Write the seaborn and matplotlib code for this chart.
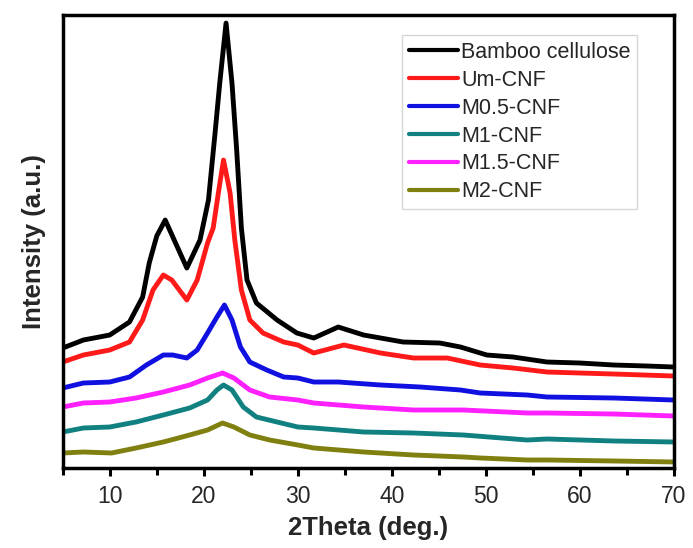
import matplotlib
matplotlib.use("Agg")
import matplotlib.pyplot as plt
import seaborn as sns
import pandas as pd
from matplotlib.ticker import MultipleLocator

# ---- data (intensity in arbitrary units) ----
bamboo_x = [5, 7.2, 10, 12.1, 13.5, 14.2, 15.0, 15.9, 17.0, 18.2, 19.6, 20.5, 21.2, 21.7, 22.37,
            23.0, 23.5, 24.0, 24.6, 25.6, 27.8, 29.9, 31.7, 34.3, 37.0, 41.2, 45.1, 47.3, 50.1,
            52.9, 56.5, 60.0, 63.6, 67.1, 70]
bamboo_y = [120, 128, 133, 146, 171, 205, 232, 248, 225, 200, 228, 268, 335, 385, 445,
            385, 318, 240, 188, 165, 148, 135, 130, 141, 133, 126, 125, 121, 113,
            111, 106, 105, 103, 102, 101]

um_x = [5, 7.2, 10, 12.1, 13.5, 14.6, 15.7, 16.6, 18.2, 19.3, 20.4, 21.0, 21.55, 22.1, 22.8,
        23.3, 24.0, 24.9, 26.3, 28.5, 30.0, 31.7, 34.9, 38.8, 42.3, 45.9, 49.4, 52.9, 56.5,
        60.0, 63.6, 70]
um_y = [106, 113, 118, 126, 148, 178, 193, 188, 168, 188, 225, 240, 275, 308, 275,
        228, 178, 148, 135, 126, 123, 115, 123, 115, 110, 110, 103, 100, 96,
        95, 94, 92]

m05_x = [5, 7.2, 10, 12.1, 13.9, 15.7, 16.7, 18.2, 19.3, 20.4, 21.4, 22.2, 23.0, 23.9, 24.9,
         26.7, 28.5, 30.0, 31.7, 34.3, 38.8, 43.0, 47.3, 49.4, 54.4, 56.5, 63.6, 70]
m05_y = [80, 85, 86, 91, 103, 113, 113, 110, 118, 135, 151, 163, 148, 121, 106,
         98, 91, 90, 86, 86, 83, 81, 78, 75, 73, 71, 70, 68]

m1_x = [5, 7.2, 10, 12.8, 15.7, 18.5, 20.4, 21.4, 22.1, 23.0, 24.2, 25.6, 27.8, 30.0, 31.7,
        37.0, 42.3, 47.6, 54.4, 56.5, 63.6, 70]
m1_y = [36, 40, 41, 46, 53, 60, 68, 78, 83, 78, 61, 51, 46, 41, 40,
        36, 35, 33, 28, 29, 27, 26]

m15_x = [5, 7.2, 10, 12.8, 15.7, 18.5, 20.4, 22.0, 23.2, 24.9, 27.0, 30.0, 31.7, 37.0, 42.3,
         47.6, 54.4, 56.5, 63.6, 70]
m15_y = [61, 65, 66, 70, 76, 83, 90, 95, 90, 78, 71, 68, 65, 61, 58,
         58, 55, 55, 54, 52]

m2_x = [5, 7.2, 10.2, 12.8, 15.7, 18.5, 20.4, 22.0, 23.2, 24.9, 27.0, 30.0, 31.7, 37.0, 42.3,
        47.6, 49.4, 54.4, 56.5, 63.6, 70]
m2_y = [15, 16, 15, 20, 26, 33, 38, 45, 41, 33, 28, 23, 20, 16, 13,
        11, 10, 8, 8, 7, 6]

series_names = ["Bamboo cellulose", "Um-CNF", "M0.5-CNF", "M1-CNF", "M1.5-CNF", "M2-CNF"]
series_x = [bamboo_x, um_x, m05_x, m1_x, m15_x, m2_x]
series_y = [bamboo_y, um_y, m05_y, m1_y, m15_y, m2_y]
colors = ["#000000", "#ff1a1a", "#1010e0", "#108080", "#ff20ff", "#808010"]
x_ticks = [10, 20, 30, 40, 50, 60, 70]

# ---- plotting ----
sns.set_style("white")
plt.rcParams["font.family"] = ["Liberation Sans", "DejaVu Sans"]

fig = plt.figure(figsize=(6.93, 5.48), dpi=100)
ax = fig.add_axes([0.0905, 0.146, 0.882, 0.8265])

for name, xs, ys, c in zip(series_names, series_x, series_y, colors):
    df = pd.DataFrame({"x": xs, "y": ys})
    sns.lineplot(data=df, x="x", y="y", ax=ax, color=c, linewidth=3.5, label=name,
                 sort=False, estimator=None)

ax.set_xlim(5, 70)
ax.set_ylim(0, 453)
ax.set_xticks(x_ticks)
ax.set_xticklabels([str(t) for t in x_ticks], fontsize=16.5)
ax.xaxis.set_minor_locator(MultipleLocator(5))
ax.set_yticks([])
ax.tick_params(axis="x", which="both", direction="out", length=6, width=2.2,
               bottom=True, top=False, color="black", pad=6)
ax.tick_params(axis="x", which="minor", length=5)

for s in ax.spines.values():
    s.set_visible(True)
    s.set_color("black")
    s.set_linewidth(2.5)

ax.set_xlabel("2Theta (deg.)", fontsize=18.5, fontweight="bold", labelpad=6)
ax.set_ylabel("Intensity (a.u.)", fontsize=18.5, fontweight="bold", labelpad=12)

leg = ax.legend(loc="upper right", bbox_to_anchor=(0.94, 0.955), fontsize=15.5,
                frameon=True, fancybox=False, handlelength=2.3, handletextpad=0.15,
                labelspacing=0.32, borderpad=0.3, borderaxespad=0.0)
leg.get_frame().set_edgecolor("#cccccc")
leg.get_frame().set_linewidth(1.0)
for h in leg.get_lines():
    h.set_linewidth(3.0)

fig.savefig("out.png", dpi=100)
